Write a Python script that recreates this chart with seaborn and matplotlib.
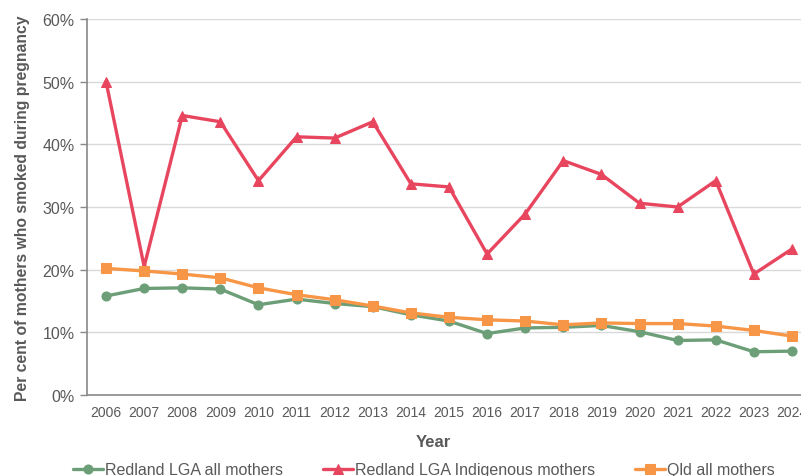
import matplotlib
matplotlib.use("Agg")
import matplotlib.pyplot as plt
import seaborn as sns
import pandas as pd
from matplotlib.ticker import PercentFormatter, MultipleLocator

# data
years = list(range(2006, 2025))
redland_all = [15.8, 17.0, 17.1, 16.9, 14.4, 15.3, 14.6, 14.1, 12.8, 11.8,
               9.8, 10.7, 10.8, 11.1, 10.1, 8.7, 8.8, 6.9, 7.0]
redland_indig = [50.0, 20.5, 44.6, 43.6, 34.2, 41.2, 41.0, 43.6, 33.7, 33.2,
                 22.5, 28.9, 37.4, 35.2, 30.6, 30.0, 34.2, 19.3, 23.3]
qld_all = [20.2, 19.8, 19.3, 18.7, 17.1, 16.0, 15.2, 14.2, 13.1, 12.4,
           12.0, 11.8, 11.2, 11.5, 11.4, 11.4, 11.0, 10.3, 9.4]

series_names = ["Redland LGA all mothers", "Redland LGA Indigenous mothers", "Qld all mothers"]
series_vals = [redland_all, redland_indig, qld_all]
colors = ["#6C9E77", "#E8465F", "#F79646"]
markers = ["o", "^", "s"]
msizes = [6.5, 6.5, 7]

sns.set_style("white")
plt.rcParams["font.family"] = ["Liberation Sans", "DejaVu Sans"]
grey = "#595959"

fig = plt.figure(figsize=(8.01, 4.77), dpi=100)
ax = fig.add_axes([87 / 801, 1 - 396 / 477, 724 / 801, 376 / 477])

for name, vals, c, m, ms in zip(series_names, series_vals, colors, markers, msizes):
    df = pd.DataFrame({"Year": years, "Value": vals})
    sns.lineplot(data=df, x="Year", y="Value", ax=ax, color=c, marker=m,
                 markersize=ms, markeredgecolor=c, linewidth=2.4, label=name,
                 legend=False)

ax.set_xlim(2005.5, 2024.5)
ax.set_ylim(0, 60)
ax.yaxis.set_major_locator(MultipleLocator(10))
ax.yaxis.set_major_formatter(PercentFormatter(decimals=0))
ax.set_xticks(years)
ax.set_xticks([y + 0.5 for y in range(2005, 2025)], minor=True)
ax.tick_params(axis="x", which="major", length=0, pad=7, labelsize=10, labelcolor=grey)
ax.tick_params(axis="x", which="minor", length=5, color="#898989", width=1)
ax.tick_params(axis="y", which="major", length=5, color="#898989", width=1,
               pad=4, labelsize=11.5, labelcolor=grey, left=True)
ax.yaxis.grid(True, color="#D9D9D9", linewidth=1)
ax.set_axisbelow(True)
for s in ["top", "right"]:
    ax.spines[s].set_visible(False)
for s in ["left", "bottom"]:
    ax.spines[s].set_color("#898989")
    ax.spines[s].set_linewidth(1.2)

ax.set_xlabel("")
ax.set_ylabel("Per cent of mothers who smoked during pregnancy", fontsize=11.3,
              fontweight="bold", color=grey, labelpad=9)
fig.text(433 / 801, 1 - 443 / 477, "Year", fontsize=12, fontweight="bold",
         color=grey, ha="center", va="center")

handles, labels = ax.get_legend_handles_labels()
fig.legend(handles, labels, loc="center", bbox_to_anchor=(0.529, 0.013), ncol=3,
           frameon=False, fontsize=11.5, handlelength=1.9, handletextpad=0.1,
           columnspacing=2.5, labelcolor=grey)

plt.savefig("out.png", dpi=100)
